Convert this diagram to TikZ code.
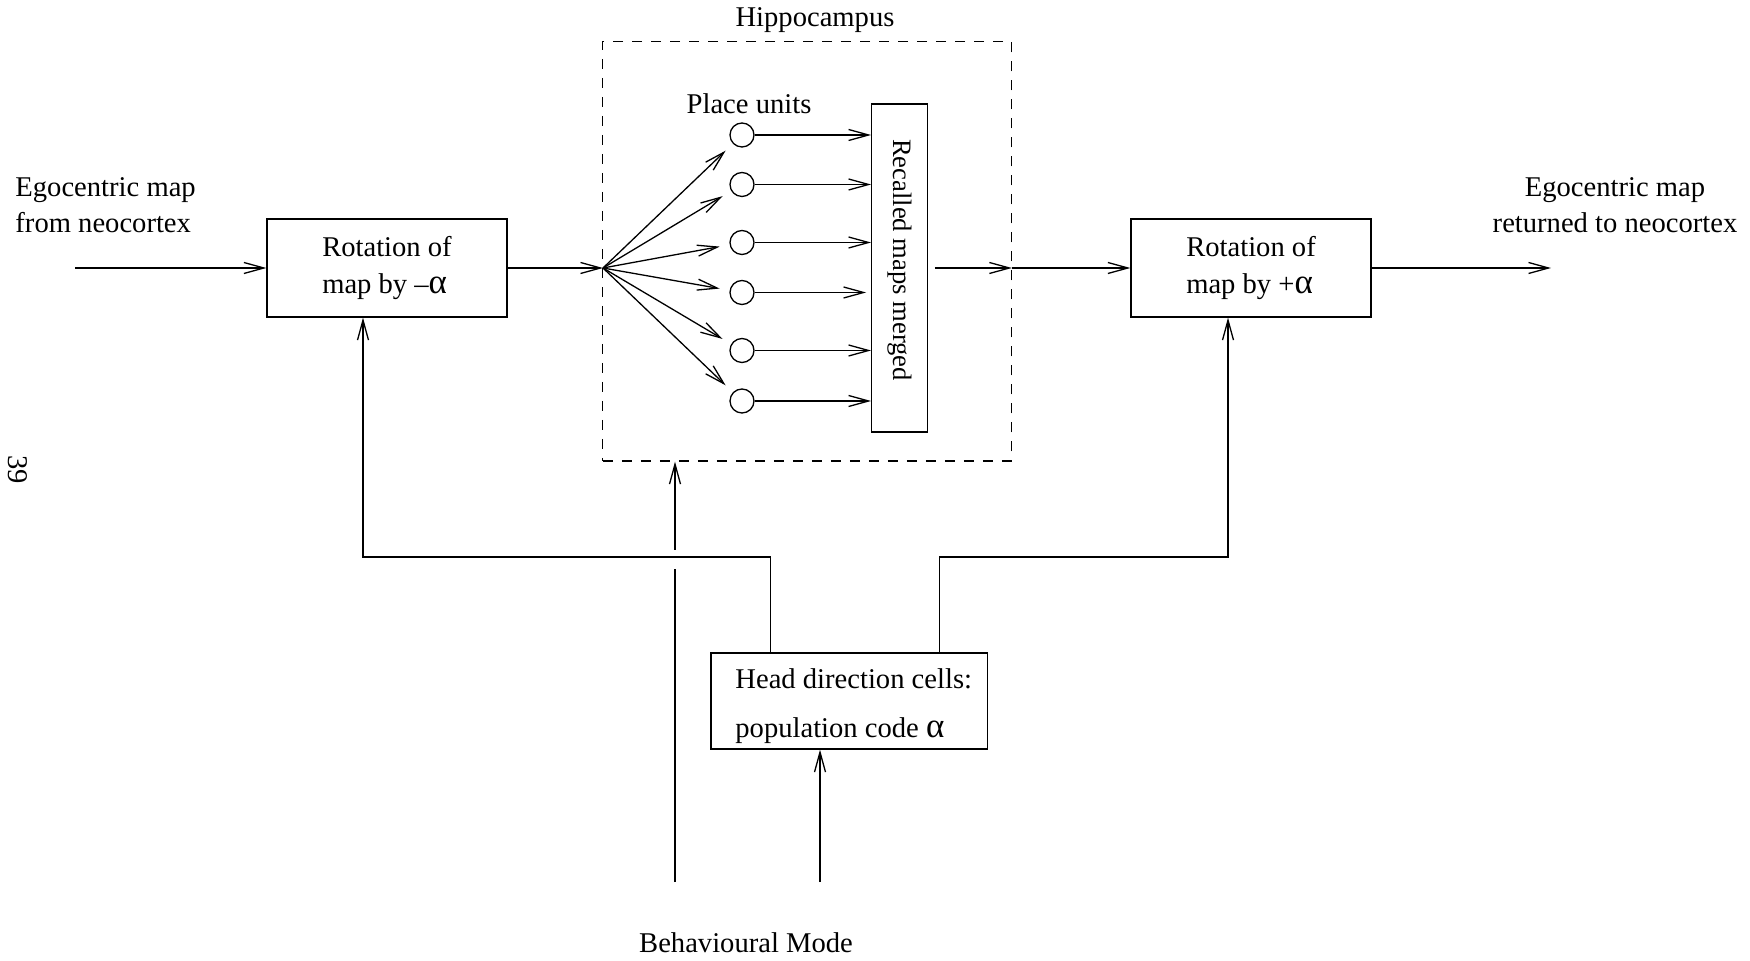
\documentclass[tikz,border=0pt]{standalone}
\usepackage{fontspec}
\setmainfont{Liberation Serif}
\usetikzlibrary{arrows.meta}
\newcommand\mytxt{\fontsize{14.3}{17.8}\selectfont}
\newcommand\myalpha{{\fontsize{17.5}{17.5}\selectfont α}}
\begin{document}
\begin{tikzpicture}[x=0.5pt,y=-0.5pt,
  every node/.style={font=\mytxt},
  ln/.style={line width=0.65pt},
  box/.style={draw, line width=0.65pt, minimum width=120pt, minimum height=49pt, inner sep=0pt, align=left, font=\fontsize{14.3}{18.5}\selectfont},
  arr/.style={ln, -{Straight Barb[length=10pt,width=5.5pt]}},
  unit/.style={draw, circle, minimum size=12pt, inner sep=0pt, line width=0.65pt},
  lbl/.style={inner sep=0pt}]
\useasboundingbox (0,0) rectangle (1750,961);

% boxes
\node[box] (lbox) at (387,268) {Rotation of\\map by –\myalpha};
\node[box] (rbox) at (1251,268) {Rotation of\\map by +\myalpha};
\node[draw, dash pattern=on 5pt off 4.5pt, line width=0.65pt, minimum width=204.2pt, minimum height=209.8pt, inner sep=0pt] (hip) at (807,251.2) {};
\node[lbl] (hiplabel) at (815,20) {Hippocampus};
\node[draw, line width=0.65pt, minimum width=27.9pt, minimum height=164.1pt, inner sep=0pt] (merge) at (899.6,268) {};
\node[lbl, rotate=-90, font=\fontsize{13.3}{16}\selectfont] (mergetext) at (899.6,260) {Recalled maps merged};
\node[lbl] (placelabel) at (749,104) {Place units};

% place units
\foreach \yy/\n in {135/1, 184.5/2, 242.5/3, 292.5/4, 350.5/5, 401/6}
  \node[unit] (c\n) at (742,\yy) {};

% head direction box
\node[draw, line width=0.65pt, minimum width=138.4pt, minimum height=48pt, inner sep=0pt] (hd) at (849.4,701) {};
\node[lbl, anchor=base west] (hdt1) at (735,689) {Head direction cells:};
\node[lbl, anchor=base west] (hdt2) at (735,737) {population code \myalpha};

% side labels
\node[lbl, align=left] (inlabel) at (105.6,205) {Egocentric map\\from neocortex};
\node[lbl, align=center] (outlabel) at (1615,205) {Egocentric map\\returned to neocortex};
\node[lbl] (bmlabel) at (746,943) {Behavioural Mode};
\node[lbl, rotate=-90] (pagenum) at (18,470) {39};

% coordinates
\coordinate (in) at (75,268);
\coordinate (out) at (1551,268);
\coordinate (fan) at (603,268);
\coordinate (jl) at (363,557);
\coordinate (jr) at (1228,557);
\coordinate (bl) at (675,882);
\coordinate (bgapl) at (675,569);
\coordinate (bgapu) at (675,550);
\coordinate (br) at (820,882);

% main flow
\draw[arr] (in) -- (lbox.west);
\draw[arr] (lbox.east) -- (fan);
\foreach \n in {1,...,6}
  \draw[arr, shorten >=5pt] (fan) -- (c\n);
\foreach \n in {1,2,3,5,6}
  \draw[arr] (c\n.east) -- (merge.west |- c\n);
\draw[arr, shorten >=2.5pt] (c4.east) -- (merge.west |- c4);
\draw[arr, shorten <=3.3pt] (merge.east |- fan) -- (hip.east |- fan);
\draw[arr] (hip.east |- fan) -- (rbox.west);
\draw[arr] (rbox.east) -- (out);

% feedback from head direction cells
\draw[arr] ([xshift=30pt]hd.north west) |- (jl) -- ([xshift=-12pt]lbox.south);
\draw[arr] ([xshift=-24.4pt]hd.north east) |- (jr) -- ([xshift=-11.5pt]rbox.south);

% behavioural mode inputs
\draw[ln] (bl) -- (bgapl);
\draw[arr] (bgapu) -- (hip.south -| bgapu);
\draw[arr] (br) -- (hd.south -| br);
\end{tikzpicture}
\end{document}
